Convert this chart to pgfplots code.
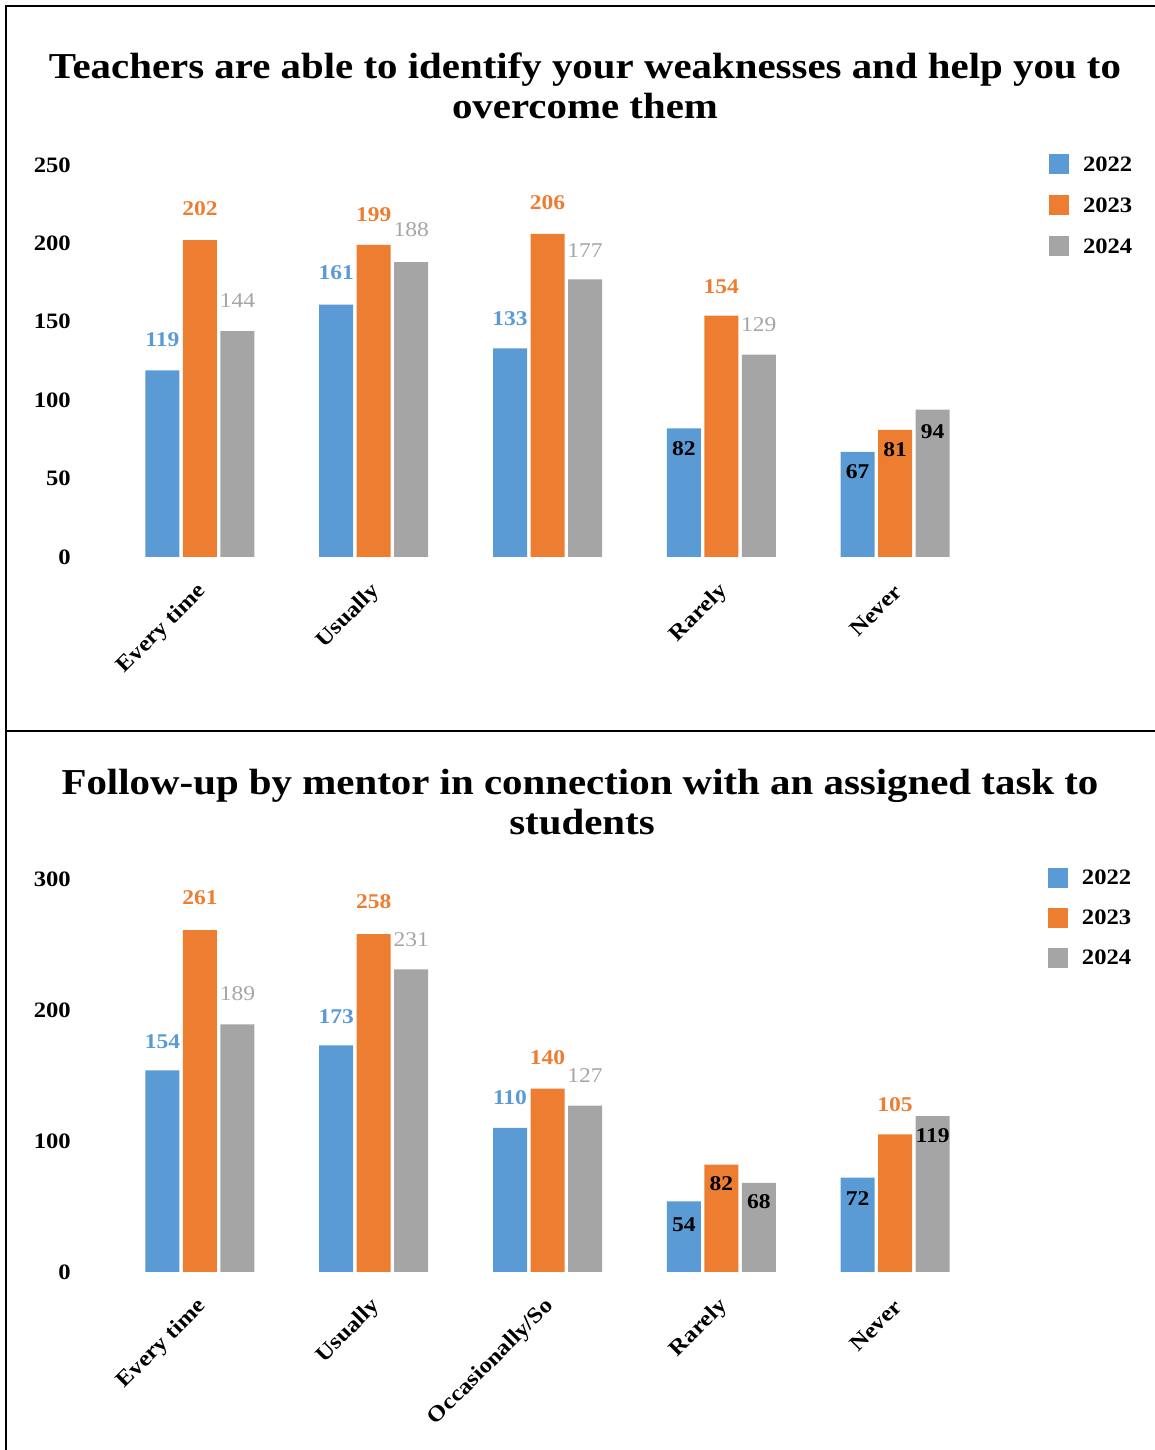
\documentclass[border=0pt]{standalone}
\usepackage{pgfplots}
\pgfplotsset{compat=1.18}
\usepackage{pgfplotstable}
\usepackage{fontspec}
\setmainfont[FakeStretch=1.12]{Liberation Serif}
\definecolor{cA}{HTML}{5B9BD5}
\definecolor{cB}{HTML}{ED7D31}
\definecolor{cC}{HTML}{A5A5A5}
\newcommand\lab{\fontsize{21}{24}\selectfont}
\newcommand\tlab{\fontsize{22}{25}\selectfont}
\newcommand\ttl{\fontsize{36.5}{42}\selectfont\bfseries}

% top chart
\pgfplotstableread{
x y off dark
0 119 31 0
1 161 32 0
2 133 30 0
3 82 -20 1
4 67 -20 1
}\tAa
\pgfplotstableread{
x y off dark
0 202 32 0
1 199 30 0
2 206 31 0
3 154 29 0
4 81 -20 1
}\tAb
\pgfplotstableread{
x y off dark
0 144 31 0
1 188 33 0
2 177 29 0
3 129 30 0
4 94 -22 1
}\tAc
% bottom chart
\pgfplotstableread{
x y off dark
0 154 29 0
1 173 29 0
2 110 30 0
3 54 -23 1
4 72 -21 1
}\tBa
\pgfplotstableread{
x y off dark
0 261 32 0
1 258 32 0
2 140 31 0
3 82 -19 1
4 105 30 0
}\tBb
\pgfplotstableread{
x y off dark
0 189 31 0
1 231 30 0
2 127 30 0
3 68 -19 1
4 119 -20 1
}\tBc

\pgfplotsset{
  sqlegend/.style={legend image code/.code={\fill[#1] (0pt,-3pt) rectangle (20pt,17pt);}},
  lbl/.style={
    visualization depends on={\thisrow{off} \as \loff},
    visualization depends on={\thisrow{dark} \as \ldark},
    nodes near coords={\ifdim\ldark pt>0.5pt \color{black}\bfseries\fi\pgfmathprintnumber{\pgfplotspointmeta}},
    every node near coord/.append style={anchor=center, inner sep=0pt, yshift=\loff pt},
  },
  common/.style={
    ybar=3.5pt, bar width=34pt,
    scale only axis, width=869pt,
    xmin=-0.5, xmax=4.5, ymin=0,
    xtick={0,1,2,3,4},
    axis line style={draw=none},
    tick style={draw=none},
    clip=false,
    /pgf/number format/assume math mode=true,
    ticklabel style={font=\tlab\bfseries},
    yticklabel style={anchor=east, inner sep=0pt, xshift=-42pt},
    xticklabel style={xshift=3pt, yshift=-27pt, rotate=45, anchor=east, inner sep=0pt},
    legend style={draw=none, fill=none, inner sep=0pt, outer sep=0pt, anchor=north west,
      font=\tlab\bfseries, nodes={inner sep=0pt, anchor=base west},
      /tikz/every odd column/.append style={column sep=14pt}},
    legend cell align=left,
    every axis plot post/.append style={sqlegend},
  },
}

\begin{document}
\begin{tikzpicture}[x=1pt,y=1pt]
\path[use as bounding box] (0,0) rectangle (1155,1450);
\draw[line width=2pt] (6,0) -- (6,1444) -- (1155,1444);
\draw[line width=2pt] (6,719) -- (1155,719);
\node[font=\ttl, anchor=base, inner sep=0pt] at (585,1371) {Teachers are able to identify your weaknesses and help you to};
\node[font=\ttl, anchor=base, inner sep=0pt] at (585,1331) {overcome them};
\node[font=\ttl, anchor=base, inner sep=0pt] at (580,655) {Follow-up by mentor in connection with an assigned task to};
\node[font=\ttl, anchor=base, inner sep=0pt] at (582,615) {students};

\begin{axis}[common, at={(113pt,893pt)}, anchor=south west, height=392pt,
  ymax=250, ytick={0,50,100,150,200,250},
  xticklabels={Every time,Usually,{},Rarely,Never},
  legend style={at={(axis description cs:1.0771,1.028)}, row sep=21pt}]
\addplot[fill=cA, draw=none, lbl, every node near coord/.append style={text=cA, font=\lab\bfseries}] table[x=x,y=y] {\tAa};
\addplot[fill=cB, draw=none, lbl, every node near coord/.append style={text=cB, font=\lab\bfseries}] table[x=x,y=y] {\tAb};
\addplot[fill=cC, draw=none, lbl, every node near coord/.append style={text=cC, font=\lab}] table[x=x,y=y] {\tAc};
\legend{2022,2023,2024}
\end{axis}

\begin{axis}[common, at={(113pt,178pt)}, anchor=south west, height=393pt,
  ymax=300, ytick={0,100,200,300},
  xticklabels={Every time,Usually,Occasionally/So,Rarely,Never},
  legend style={at={(axis description cs:1.0759,1.028)}, row sep=20pt}]
\addplot[fill=cA, draw=none, lbl, every node near coord/.append style={text=cA, font=\lab\bfseries}] table[x=x,y=y] {\tBa};
\addplot[fill=cB, draw=none, lbl, every node near coord/.append style={text=cB, font=\lab\bfseries}] table[x=x,y=y] {\tBb};
\addplot[fill=cC, draw=none, lbl, every node near coord/.append style={text=cC, font=\lab}] table[x=x,y=y] {\tBc};
\legend{2022,2023,2024}
\end{axis}
\end{tikzpicture}
\end{document}
